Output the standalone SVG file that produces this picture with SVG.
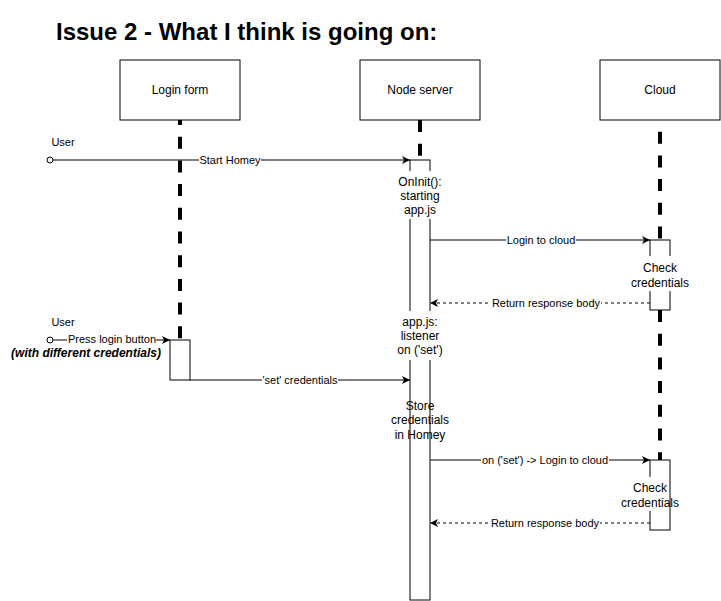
<svg xmlns="http://www.w3.org/2000/svg" width="721" height="601" viewBox="0 0 721 601">
<style>
text{font-family:"Liberation Sans",Arial,sans-serif;fill:#000}
.hd{font-size:12px;text-anchor:middle}
.act{font-size:12px;text-anchor:middle}
.lbl{font-size:11px;text-anchor:middle}
.box{fill:#fff;stroke:#000;stroke-width:1}
.life{stroke:#000;stroke-width:4;stroke-dasharray:12 11.7;fill:none}
.msg{stroke:#000;stroke-width:1;fill:none;marker-end:url(#arr)}
.ret{stroke:#000;stroke-width:1;fill:none;stroke-dasharray:3 3;marker-end:url(#arr)}
.bg{fill:#fff}
</style>
<defs>
<marker id="arr" viewBox="0 0 10 10" refX="10" refY="5" markerWidth="9" markerHeight="8" markerUnits="userSpaceOnUse" orient="auto">
<path d="M0,0 L10,5 L0,10 L2.5,5 z" fill="#000"/>
</marker>
</defs>
<rect width="721" height="601" fill="#fff"/>
<text x="56" y="40" style="font-size:24px;font-weight:bold">Issue 2 - What I think is going on:</text>

<g id="lifelines">
<line class="life" x1="180" y1="120" x2="180" y2="340" style="stroke-dashoffset:7"/>
<line class="life" x1="420" y1="120" x2="420" y2="160"/>
<line class="life" x1="660" y1="120" x2="660" y2="240" style="stroke-dashoffset:12"/>
<line class="life" x1="660" y1="310" x2="660" y2="460"/>
</g>

<g id="login-form">
<rect class="box" x="120" y="60" width="120" height="60"/>
<text class="hd" x="180" y="94">Login form</text>
</g>
<g id="node-server">
<rect class="box" x="360" y="60" width="120" height="60"/>
<text class="hd" x="420" y="94">Node server</text>
</g>
<g id="cloud">
<rect class="box" x="600" y="60" width="120" height="60"/>
<text class="hd" x="660" y="94">Cloud</text>
</g>

<g id="login-activation">
<rect class="box" x="170" y="340" width="20" height="40"/>
</g>
<g id="server-activation">
<rect class="box" x="410" y="160" width="20" height="440"/>
</g>
<g id="cloud-activation-1">
<rect class="box" x="650" y="240" width="20" height="70"/>
</g>
<g id="cloud-activation-2">
<rect class="box" x="650" y="460" width="20" height="70"/>
</g>

<g id="connectors">
<circle cx="50" cy="160" r="3" fill="#fff" stroke="#000" stroke-width="1"/>
<line class="msg" x1="53" y1="160" x2="410" y2="160"/>
<circle cx="50" cy="340" r="3" fill="#fff" stroke="#000" stroke-width="1"/>
<line class="msg" x1="53" y1="340" x2="170" y2="340"/>
<line class="msg" x1="190" y1="380" x2="410" y2="380"/>
<line class="msg" x1="430" y1="240" x2="650" y2="240"/>
<line class="ret" x1="650" y1="303" x2="430" y2="303"/>
<line class="msg" x1="430" y1="460" x2="650" y2="460"/>
<line class="ret" x1="650" y1="523" x2="430" y2="523"/>

<rect class="bg" x="199" y="154" width="62" height="12"/>
<text class="lbl" x="230" y="164">Start Homey</text>
<rect class="bg" x="67" y="335" width="89" height="10"/>
<text class="lbl" x="112" y="343">Press login button</text>
<rect class="bg" x="262" y="374" width="76" height="12"/>
<text class="lbl" x="300" y="384">'set' credentials</text>
<rect class="bg" x="506" y="234" width="70" height="12"/>
<text class="lbl" x="541" y="244">Login to cloud</text>
<rect class="bg" x="491" y="297" width="110" height="12"/>
<text class="lbl" x="546" y="307">Return response body</text>
<rect class="bg" x="481" y="454" width="128" height="12"/>
<text class="lbl" x="545" y="464">on ('set') -&gt; Login to cloud</text>
<rect class="bg" x="490" y="517" width="110" height="12"/>
<text class="lbl" x="545" y="527">Return response body</text>
</g>

<g id="user-labels">
<text class="lbl" x="63" y="146">User</text>
<text class="lbl" x="63" y="326">User</text>
<text x="86" y="357" style="font-size:12px;font-weight:bold;font-style:italic;text-anchor:middle">(with different credentials)</text>
</g>

<g id="activation-texts">
<rect class="bg" x="396" y="171" width="48" height="48"/>
<text class="act" x="420" y="186">OnInit():</text>
<text class="act" x="420" y="200">starting</text>
<text class="act" x="420" y="214">app.js</text>
<rect class="bg" x="398" y="311" width="44" height="49"/>
<text class="act" x="420" y="326">app.js:</text>
<text class="act" x="420" y="340">listener</text>
<text class="act" x="420" y="354">on ('set')</text>
<text class="act" x="420" y="410">Store</text>
<text class="act" x="420" y="424">credentials</text>
<text class="act" x="420" y="439">in Homey</text>
<rect class="bg" x="630" y="256" width="60" height="35"/>
<text class="act" x="660" y="272">Check</text>
<text class="act" x="660" y="287">credentials</text>
<rect class="bg" x="622" y="477" width="45" height="34"/>
<text class="act" x="650" y="492">Check</text>
<text class="act" x="650" y="507">credentials</text>
</g>
</svg>
